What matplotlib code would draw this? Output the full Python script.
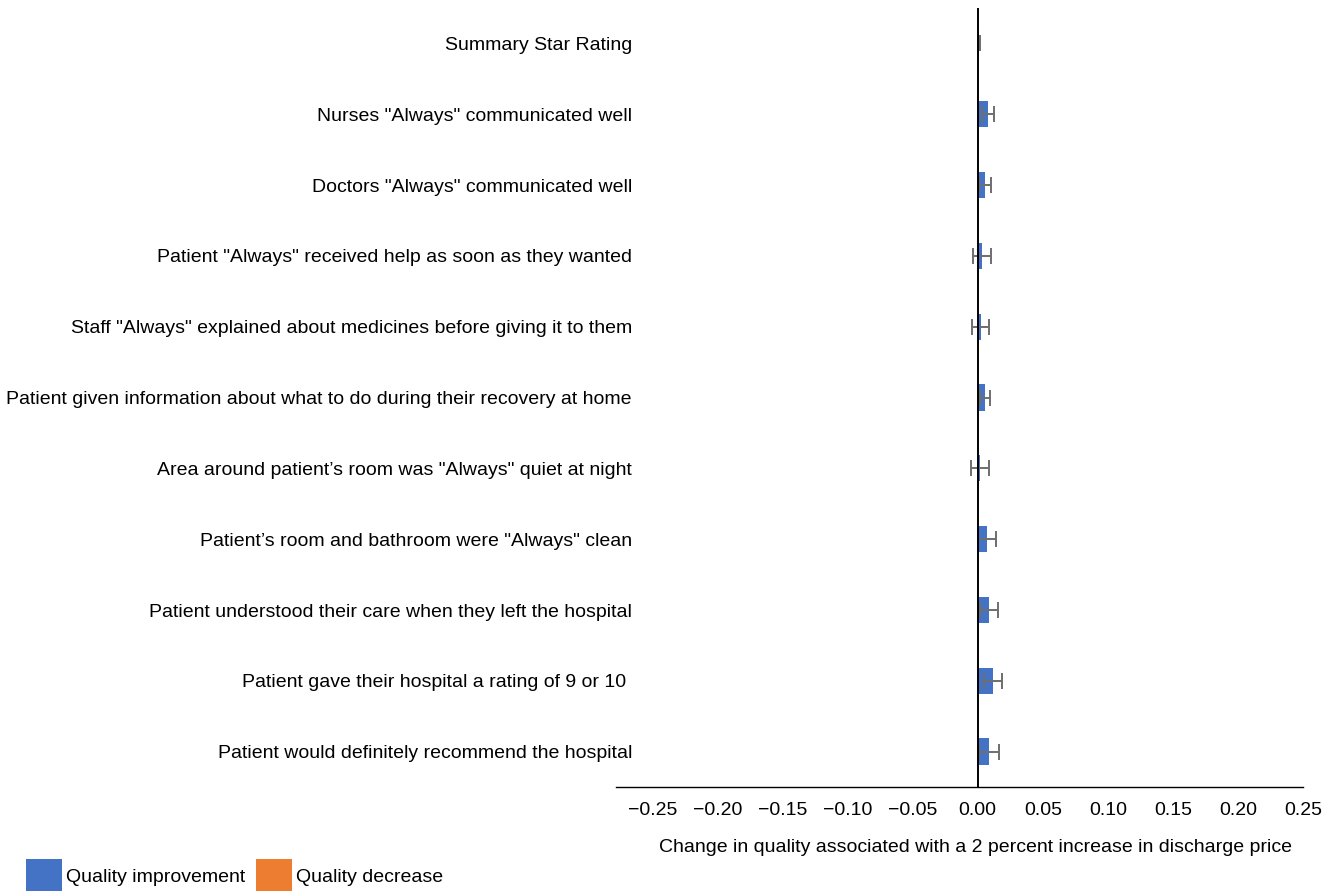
import matplotlib
matplotlib.use("Agg")
import matplotlib.pyplot as plt
from matplotlib.patches import Patch

plt.rcParams['font.family'] = ['Liberation Sans', 'DejaVu Sans']

categories = [
    "Summary Star Rating",
    'Nurses "Always" communicated well',
    'Doctors "Always" communicated well',
    'Patient "Always" received help as soon as they wanted',
    'Staff "Always" explained about medicines before giving it to them',
    "Patient given information about what to do during their recovery at home",
    'Area around patient\u2019s room was "Always" quiet at night',
    'Patient\u2019s room and bathroom were "Always" clean',
    "Patient understood their care when they left the hospital",
    "Patient gave their hospital a rating of 9 or 10 ",
    "Patient would definitely recommend the hospital",
]
effects = [0.001, 0.008, 0.0055, 0.0035, 0.0022, 0.0054, 0.002, 0.007, 0.0085, 0.0117, 0.0087]
errors = [0.001, 0.0044, 0.0044, 0.0069, 0.0067, 0.0038, 0.0069, 0.0069, 0.0069, 0.0069, 0.0079]
x_ticks = [-0.25, -0.20, -0.15, -0.10, -0.05, 0.0, 0.05, 0.10, 0.15, 0.20, 0.25]

BLUE = "#4472C4"
ORANGE = "#ED7D31"
W, H = 1340, 891
FS = 14

fig = plt.figure(figsize=(W / 100, H / 100), dpi=100)
ax = fig.add_axes([616 / W, 1 - 787 / H, (1303 - 616) / W, (787 - 8) / H])

ypos = list(range(len(categories)))
colors = [BLUE if v >= 0 else ORANGE for v in effects]
ax.barh(ypos, effects, height=0.37, color=colors, zorder=2)
ax.errorbar(effects, ypos, xerr=errors, fmt="none", ecolor="#6e6e6e",
            elinewidth=1.4, capsize=5.5, capthick=1.4, zorder=3)
ax.axvline(0, color="black", lw=1.4, zorder=4)

ax.set_ylim(len(categories) - 0.5, -0.5)
ax.set_xlim(-0.278, 0.25)
ax.set_xticks(x_ticks)
ax.set_xticklabels([f"{t:.2f}".replace("-", "\u2212") for t in x_ticks], fontsize=FS)
ax.tick_params(axis="x", length=0, pad=11)
ax.set_yticks([])
for s in ["top", "right", "left"]:
    ax.spines[s].set_visible(False)
ax.spines["bottom"].set_linewidth(1.0)

ytrans = ax.get_yaxis_transform()
for y, label in zip(ypos, categories):
    ax.text(16 / (1303 - 616), y + 0.03, label, transform=ytrans, ha="right",
            va="center", fontsize=FS)

fig.text(975 / W, 1 - 847 / H,
         "Change in quality associated with a 2 percent increase in discharge price",
         ha="center", va="center", fontsize=FS)

handles = [Patch(facecolor=BLUE), Patch(facecolor=ORANGE)]
fig.legend(handles, ["Quality improvement", "Quality decrease"],
           loc="lower left", bbox_to_anchor=(26 / W, -3 / H), ncol=2,
           frameon=False, fontsize=FS, handlelength=1.85, handleheight=2.4,
           handletextpad=0.2, columnspacing=0.55, borderpad=0, borderaxespad=0)

fig.savefig("out.png", dpi=100)
